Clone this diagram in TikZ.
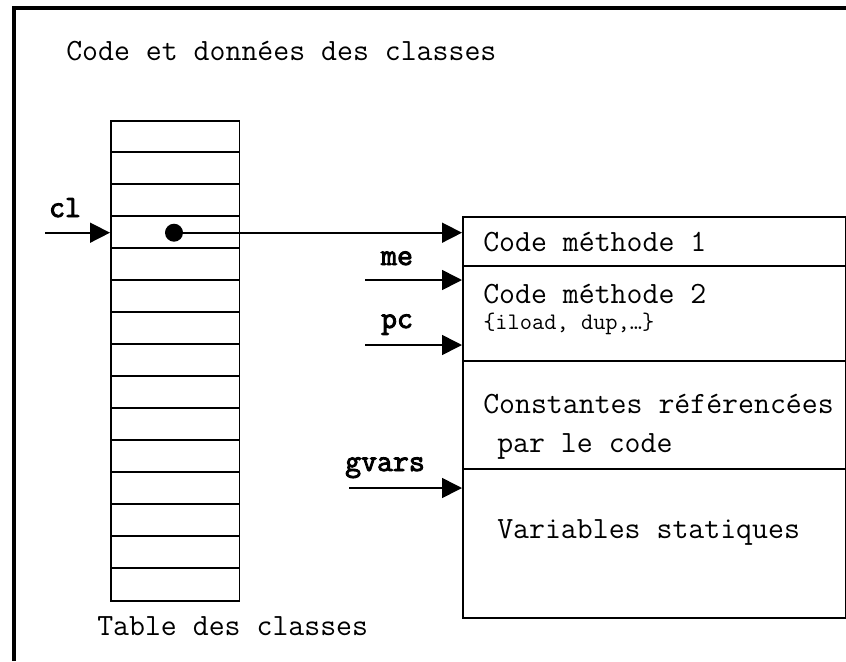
\documentclass[tikz,border=0pt]{standalone}
\usepackage{fontspec}
\newfontfamily\lblfont[FakeBold=3]{Latin Modern Mono}
\usetikzlibrary{arrows.meta,calc}
\tikzset{
  frameline/.style={line width=3.6pt},
  cell/.style={draw, line width=1.3pt, inner sep=0pt},
  ptr/.style={line width=1.2pt, -{Triangle[length=15pt,width=15pt]}},
  txt/.style={inner sep=0pt, anchor=base west, font=\ttfamily\fontsize{23.2}{26}\selectfont},
  smalltxt/.style={inner sep=0pt, anchor=base west, font=\ttfamily\fontsize{17.8}{20}\selectfont},
  lbl/.style={inner sep=0pt, anchor=base, font=\lblfont\fontsize{23.2}{26}\selectfont},
}
\begin{document}
\begin{tikzpicture}[x=0.75pt,y=-0.75pt]
\useasboundingbox (0,0) rectangle (846,661);
% outer frame (cropped)
\draw[frameline] (14,661) -- (14,8) -- (846,8);
\node[txt] (title) at (66,60) {Code et données des classes};

% table of classes
\node[cell, minimum width=128.6*0.75pt, minimum height=480*0.75pt, anchor=north west] (tbl) at (110,120) {};
\foreach \i in {1,...,14} {
  \draw[line width=1.3pt] ($(tbl.north west)+(0,32*\i)$) -- ($(tbl.north east)+(0,32*\i)$);
}
\node[txt] (tbllbl) at (97,635) {Table des classes};

% pointer cl
\coordinate (clstart) at (45,232.7);
\node[lbl] (cl) at (65,217) {cl};
\draw[ptr] (clstart) -- (tbl.west |- clstart);
\node[circle, fill, inner sep=0pt, minimum size=18*0.75pt] (dot) at (174,232.7) {};

% right memory block
\node[cell, minimum width=383*0.75pt, minimum height=49*0.75pt, anchor=north west] (m1) at (462,216) {};
\node[cell, minimum width=383*0.75pt, minimum height=95*0.75pt, anchor=north west] (m2) at (462,265) {};
\node[cell, minimum width=383*0.75pt, minimum height=108*0.75pt, anchor=north west] (cst) at (462,360) {};
\node[cell, minimum width=383*0.75pt, minimum height=149*0.75pt, anchor=north west] (vars) at (462,468) {};

\node[txt] (t1) at (483,251) {Code méthode 1};
\node[txt] (t2) at (483,303) {Code méthode 2};
\node[smalltxt] (t2b) at (483,329) {\{iload, dup,…\}};
\node[txt] (t3) at (483,413) {Constantes référencées};
\node[txt] (t3b) at (497,452) {par le code};
\node[txt] (t4) at (497,538) {Variables statiques};

\draw[ptr] (dot.center) -- (m1.west |- dot);

\coordinate (mestart) at (365,280);
\node[lbl] (me) at (397,265) {me};
\draw[ptr] (mestart) -- (m2.west |- mestart);

\coordinate (pcstart) at (365,345);
\node[lbl] (pc) at (397,328) {pc};
\draw[ptr] (pcstart) -- (m2.west |- pcstart);

\coordinate (gvstart) at (349,488);
\node[lbl] (gvars) at (385,471) {gvars};
\draw[ptr] (gvstart) -- (vars.west |- gvstart);
\end{tikzpicture}
\end{document}
